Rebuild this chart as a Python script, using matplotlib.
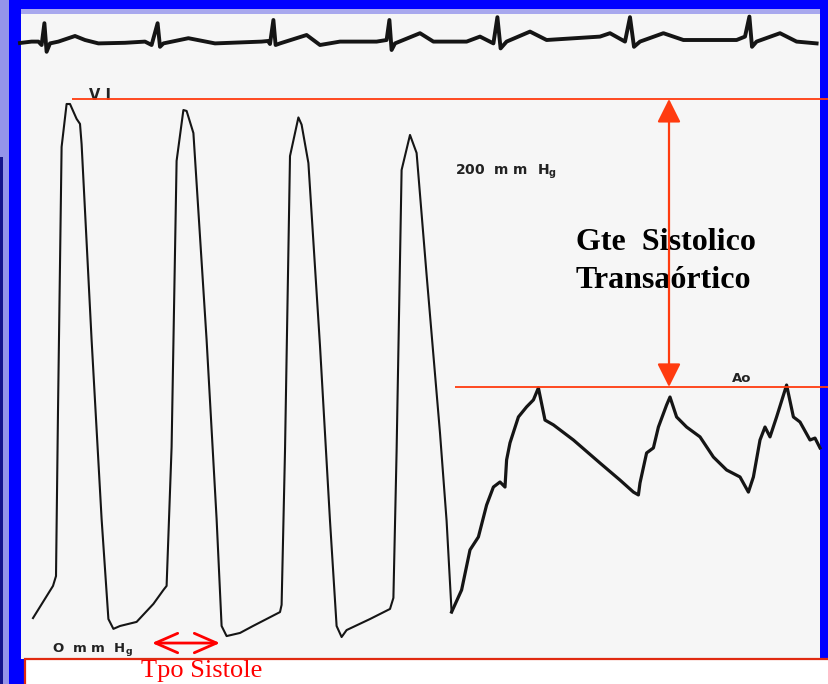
import matplotlib.pyplot as plt
from matplotlib.patches import Rectangle

# Curva de presion (retirada del cateter de VI a aorta): tiempo en s, presion en mmHg
t_vi = [0.165, 0.265, 0.280, 0.290, 0.308, 0.333, 0.350, 0.383, 0.400, 0.408,
        0.458, 0.508, 0.542, 0.567, 0.600, 0.683, 0.767, 0.817, 0.833, 0.858,
        0.883, 0.917, 0.933, 0.967, 1.033, 1.083, 1.108, 1.133, 1.200, 1.265,
        1.400, 1.408, 1.425, 1.450, 1.492, 1.508, 1.542, 1.600, 1.650, 1.683,
        1.708, 1.733, 1.850, 1.950, 1.967, 1.983, 2.008, 2.050, 2.083, 2.133,
        2.200, 2.233, 2.258]
p_vi = [13.3, 26.7, 30.8, 99.6, 209.6, 227.5, 227.5, 221.3, 219.2, 210.8,
        129.2, 54.6, 12.9, 8.8, 10.0, 11.7, 19.2, 25.0, 26.7, 84.6,
        203.8, 225.0, 224.6, 215.4, 129.2, 54.6, 10.0, 5.8, 7.1, 10.0,
        15.8, 18.8, 82.9, 205.8, 221.9, 218.9, 202.9, 126.7, 53.8, 10.0,
        5.4, 8.3, 12.9, 17.1, 21.7, 82.9, 200.0, 214.6, 207.1, 156.3,
        90.4, 53.8, 15.8]
t_ao = [2.258, 2.308, 2.350, 2.392, 2.433, 2.467, 2.500, 2.525, 2.533, 2.550,
        2.592, 2.633, 2.667, 2.692, 2.725, 2.767, 2.867, 3.000, 3.100, 3.167,
        3.192, 3.200, 3.233, 3.267, 3.292, 3.333, 3.350, 3.383, 3.433, 3.500,
        3.567, 3.633, 3.700, 3.742, 3.767, 3.800, 3.825, 3.850, 3.883, 3.933,
        3.967, 4.000, 4.050, 4.075, 4.100]
p_ao = [15.8, 25.0, 41.7, 47.1, 60.4, 67.9, 70.0, 67.9, 79.2, 86.3,
        97.1, 101.3, 104.2, 109.2, 95.8, 93.8, 87.5, 77.9, 70.8, 65.8,
        64.6, 69.6, 82.1, 84.2, 92.9, 102.1, 105.4, 97.1, 92.9, 88.8,
        80.4, 75.0, 72.1, 65.8, 72.1, 87.5, 92.9, 88.8, 97.1, 110.4,
        97.1, 95.0, 87.5, 88.3, 84.2]

# ECG: tiempo en s, voltaje en mV
t_ecg = [0.100, 0.158, 0.192, 0.208, 0.222, 0.233, 0.250, 0.292, 0.375, 0.425,
         0.492, 0.625, 0.725, 0.758, 0.788, 0.800, 0.817, 0.942, 1.075, 1.308,
         1.340, 1.350, 1.367, 1.378, 1.400, 1.533, 1.600, 1.700, 1.883, 1.933,
         1.947, 1.958, 1.975, 2.100, 2.167, 2.333, 2.400, 2.467, 2.487, 2.503,
         2.533, 2.650, 2.733, 3.000, 3.050, 3.125, 3.150, 3.170, 3.200, 3.317,
         3.417, 3.683, 3.725, 3.747, 3.760, 3.783, 3.900, 3.983, 4.083]
v_ecg = [-0.05, 0.02, 0.02, -0.15, 0.94, -0.49, -0.07, 0.02, 0.30, 0.10,
         -0.07, -0.04, 0.02, -0.15, 0.94, -0.24, -0.07, 0.19, -0.07, 0.02,
         0.05, -0.10, 1.10, -0.15, -0.07, 0.35, -0.15, 0.02, 0.02, 0.10,
         1.10, -0.40, -0.07, 0.44, 0.02, 0.02, 0.27, -0.07, 1.24, -0.32,
         0.02, 0.52, 0.10, 0.27, 0.44, 0.02, 1.24, -0.24, 0.02, 0.44,
         0.10, 0.10, 0.27, 1.27, -0.24, 0.02, 0.44, 0.02, -0.07]

# Niveles del gradiente y tiempo de sistole
nivel_vi = 229.6
nivel_ao = 109.6
tpo_sistole = (0.76, 1.10)

rojo = '#ff3b0f'

fig = plt.figure(figsize=(8.29, 6.84), dpi=100)
fig.patch.set_facecolor('#0000ff')

# Fondo: marco azul, papel y recuadro inferior (coordenadas de la diapositiva)
fondo = fig.add_axes([0, 0, 1, 1])
fondo.set_xlim(0, 829)
fondo.set_ylim(684, 0)
fondo.axis('off')
fondo.add_patch(Rectangle((0, 0), 9, 684, fc='#9494ea', ec='none'))
fondo.add_patch(Rectangle((0, 157), 3, 527, fc='#14148c', ec='none'))
fondo.add_patch(Rectangle((21, 9), 799, 5, fc='#a8a8ee', ec='none'))
fondo.add_patch(Rectangle((21, 14), 799, 645, fc='#f6f6f6', ec='none'))
fondo.add_patch(Rectangle((25, 659), 810, 40, fc='white', ec='#e02a10', lw=1.6))

fondo.text(100, 96, 'V I', fontsize=10.5, fontweight='bold', color='#222222',
           ha='center', va='center')
fondo.text(506, 172, r'200  m m  H$_{\mathregular{g}}$', fontsize=10,
           fontweight='bold', color='#222222', ha='center', va='center')
fondo.text(92, 649, r'O  m m  H$_{\mathregular{g}}$', fontsize=9.5,
           fontweight='bold', color='#222222', ha='center', va='center')
fondo.text(742, 378, 'Ao', fontsize=9.5, fontweight='bold', color='#222222',
           ha='center', va='center')
fondo.text(576, 242, 'Gte  Sistolico', fontsize=23, fontweight='bold',
           family='Liberation Serif', ha='left', va='center')
fondo.text(576, 280, 'Transaórtico', fontsize=23, fontweight='bold',
           family='Liberation Serif', ha='left', va='center')
fondo.text(202, 671, 'Tpo Sistole', fontsize=19, color='red',
           family='Liberation Serif', ha='center', va='center')

# ECG
ax_ecg = fig.add_axes([0, 0, 1, 1])
ax_ecg.patch.set_visible(False)
ax_ecg.set_xlim(0, 4.145)
ax_ecg.set_ylim(-32.1, 2.1)
ax_ecg.axis('off')
ax_ecg.plot(t_ecg, v_ecg, color='#151515', lw=2.8, solid_joinstyle='round')

# Presiones
ax = fig.add_axes([0, 0, 1, 1])
ax.patch.set_visible(False)
ax.set_xlim(0, 4.145)
ax.set_ylim(-14.17, 270.83)
ax.axis('off')
ax.plot(t_vi, p_vi, color='#151515', lw=1.5, solid_joinstyle='round')
ax.plot(t_ao, p_ao, color='#151515', lw=2.3, solid_joinstyle='round')

ax.hlines(nivel_vi, 0.36, 4.145, color=rojo, lw=1.3)
ax.hlines(nivel_ao, 2.275, 4.145, color=rojo, lw=1.3)
ax.annotate('', xy=(3.345, nivel_vi), xytext=(3.345, nivel_ao),
            arrowprops=dict(arrowstyle='<|-|>,head_length=0.8,head_width=0.4',
                            color=rojo, lw=1.6, mutation_scale=18,
                            shrinkA=0, shrinkB=0))
ax.annotate('', xy=(tpo_sistole[0], 2.9), xytext=(tpo_sistole[1], 2.9),
            arrowprops=dict(arrowstyle='<->,head_length=0.8,head_width=0.35',
                            color='red', lw=2, mutation_scale=20,
                            shrinkA=0, shrinkB=0))

fig.savefig('out.png', dpi=100, facecolor=fig.get_facecolor())
